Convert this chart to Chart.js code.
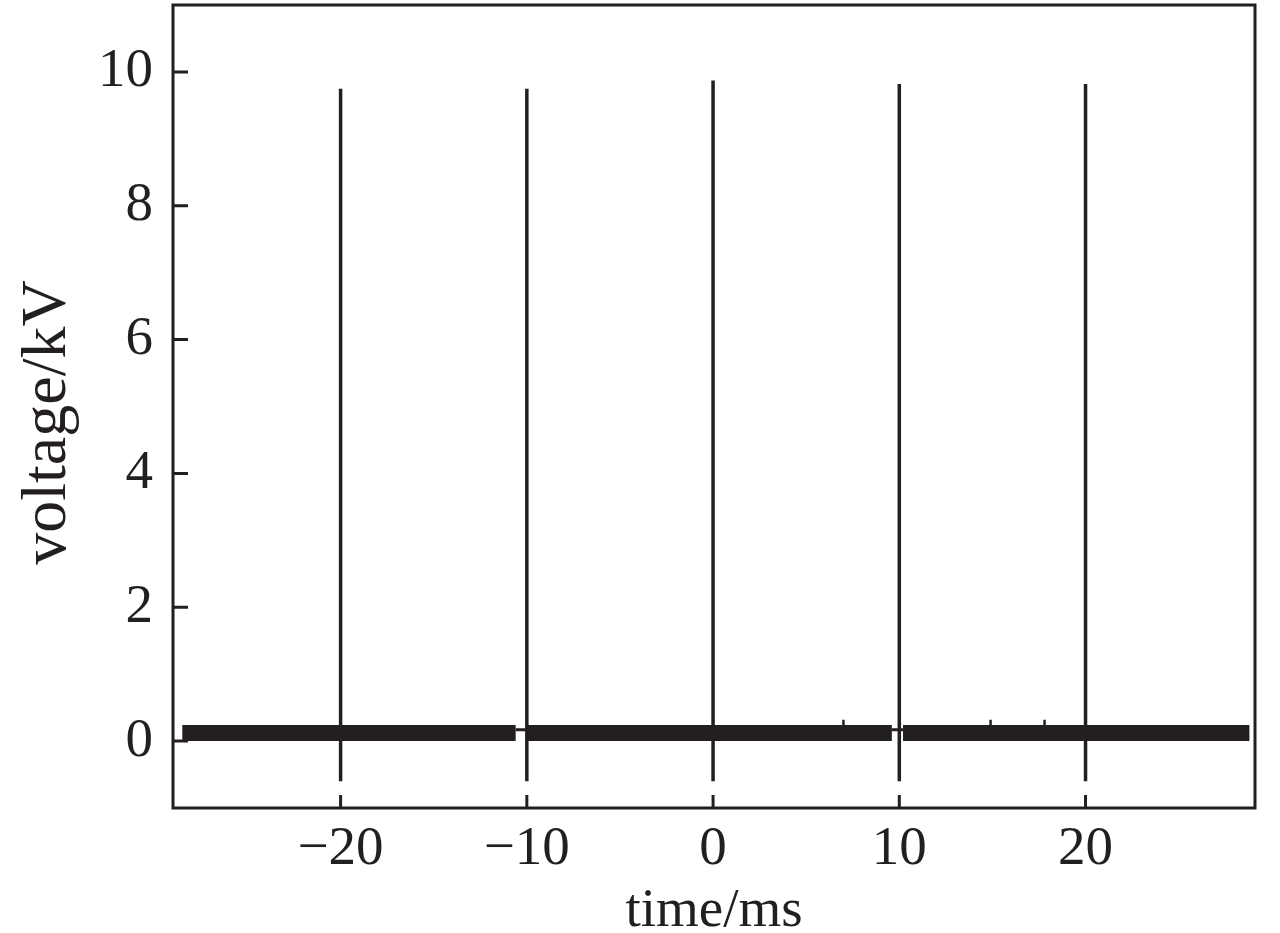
<!DOCTYPE html>
<html>
<head>
<meta charset="utf-8">
<script src="https://cdn.jsdelivr.net/npm/chart.js@4.4.1/dist/chart.umd.min.js"></script>
<style>
  html, body { margin: 0; padding: 0; background: #fff; }
  #wrap { width: 1280px; height: 933px; }
</style>
</head>
<body>
<div id="wrap"><canvas id="myChart"></canvas></div>
<script>
const INK = '#231f20';
const FONT = '"Liberation Serif", "Times New Roman", serif';

// baseline noise band (null = break between record segments)
const baseTime = [-28.5, -10.6, null, -10.0, 9.6, null, 10.2, 28.8];
const baseVolt = [0.12, 0.12, null, 0.12, 0.12, null, 0.12, 0.12];

// thin joins across the gaps
const gapTime = [-10.6, -10.0, null, 9.6, 10.2];
const gapVolt = [0.17, 0.17, null, 0.17, 0.17];

// discharge pulses
const spikeTime = [-20, -10, 0, 10, 20];
const spikeTop = [9.75, 9.75, 9.87, 9.82, 9.82];
const spikeBottom = [-0.6, -0.6, -0.6, -0.6, -0.6];

// small bumps on the baseline
const bumpTime = [7.0, 14.9, 17.8];
const bumpTop = [0.32, 0.32, 0.32];

const xTicks = [-20, -10, 0, 10, 20];
const yTicks = [0, 2, 4, 6, 8, 10];

function pairs(xs, ys) {
  return xs.map((t, i) => ({ x: t === null ? NaN : t, y: ys[i] }));
}

function verticals(xs, lo, hi) {
  const pts = [];
  xs.forEach((t, i) => {
    pts.push({ x: t, y: lo[i] }, { x: t, y: hi[i] }, { x: t, y: null });
  });
  return pts;
}

const framePlugin = {
  id: 'frame',
  afterDatasetsDraw(chart) {
    const { ctx, chartArea: a, scales: { x, y } } = chart;
    ctx.save();
    ctx.strokeStyle = INK;
    ctx.lineWidth = 3;
    ctx.strokeRect(a.left, a.top, a.right - a.left, a.bottom - a.top);
    ctx.beginPath();
    x.ticks.forEach(t => {
      const px = x.getPixelForValue(t.value);
      ctx.moveTo(px, a.bottom);
      ctx.lineTo(px, a.bottom - 13);
    });
    y.ticks.forEach(t => {
      const py = y.getPixelForValue(t.value);
      ctx.moveTo(a.left, py);
      ctx.lineTo(a.left + 15, py);
    });
    ctx.stroke();
    ctx.restore();
  }
};

const line = (data, width) => ({
  data: data,
  borderColor: INK,
  backgroundColor: INK,
  borderWidth: width,
  pointRadius: 0,
  spanGaps: false,
  tension: 0
});

const ctx = document.getElementById('myChart');

new Chart(ctx, {
  type: 'line',
  data: {
    datasets: [
      line(pairs(baseTime, baseVolt), 16),
      line(pairs(gapTime, gapVolt), 3),
      line(verticals(spikeTime, spikeBottom, spikeTop), 3.5),
      line(verticals(bumpTime, bumpTime.map(() => 0.12), bumpTop), 2.5)
    ]
  },
  options: {
    responsive: true,
    maintainAspectRatio: false,
    animation: false,
    events: [],
    layout: { padding: { left: 0, right: 25, top: 5, bottom: 0 } },
    plugins: {
      legend: { display: false },
      tooltip: { enabled: false }
    },
    scales: {
      x: {
        type: 'linear',
        min: -29,
        max: 29.1,
        border: { display: false },
        grid: { display: false, drawTicks: false },
        afterBuildTicks: (s) => { s.ticks = xTicks.map(v => ({ value: v })); },
        afterFit: (s) => { s.height = 125; s.paddingLeft = 0; s.paddingRight = 0; },
        ticks: {
          color: INK,
          padding: 9,
          maxRotation: 0,
          autoSkip: false,
          font: { family: FONT, size: 55 },
          callback: (v) => v < 0 ? '\u2212' + Math.abs(v) : String(v)
        },
        title: {
          display: true,
          text: 'time/ms',
          color: INK,
          padding: { top: 0, bottom: -12 },
          font: { family: FONT, size: 55 }
        }
      },
      y: {
        type: 'linear',
        min: -1,
        max: 11,
        border: { display: false },
        grid: { display: false, drawTicks: false },
        afterBuildTicks: (s) => { s.ticks = yTicks.map(v => ({ value: v })); },
        afterFit: (s) => { s.width = 173; s.paddingTop = 0; s.paddingBottom = 0; },
        ticks: {
          color: INK,
          padding: 20,
          autoSkip: false,
          font: { family: FONT, size: 55 },
          callback: (v) => String(v)
        },
        title: {
          display: true,
          text: 'voltage/kV\u2002',
          color: INK,
          padding: { top: 10, bottom: 0 },
          font: { family: FONT, size: 64 }
        }
      }
    }
  },
  plugins: [framePlugin]
});
</script>
</body>
</html>
